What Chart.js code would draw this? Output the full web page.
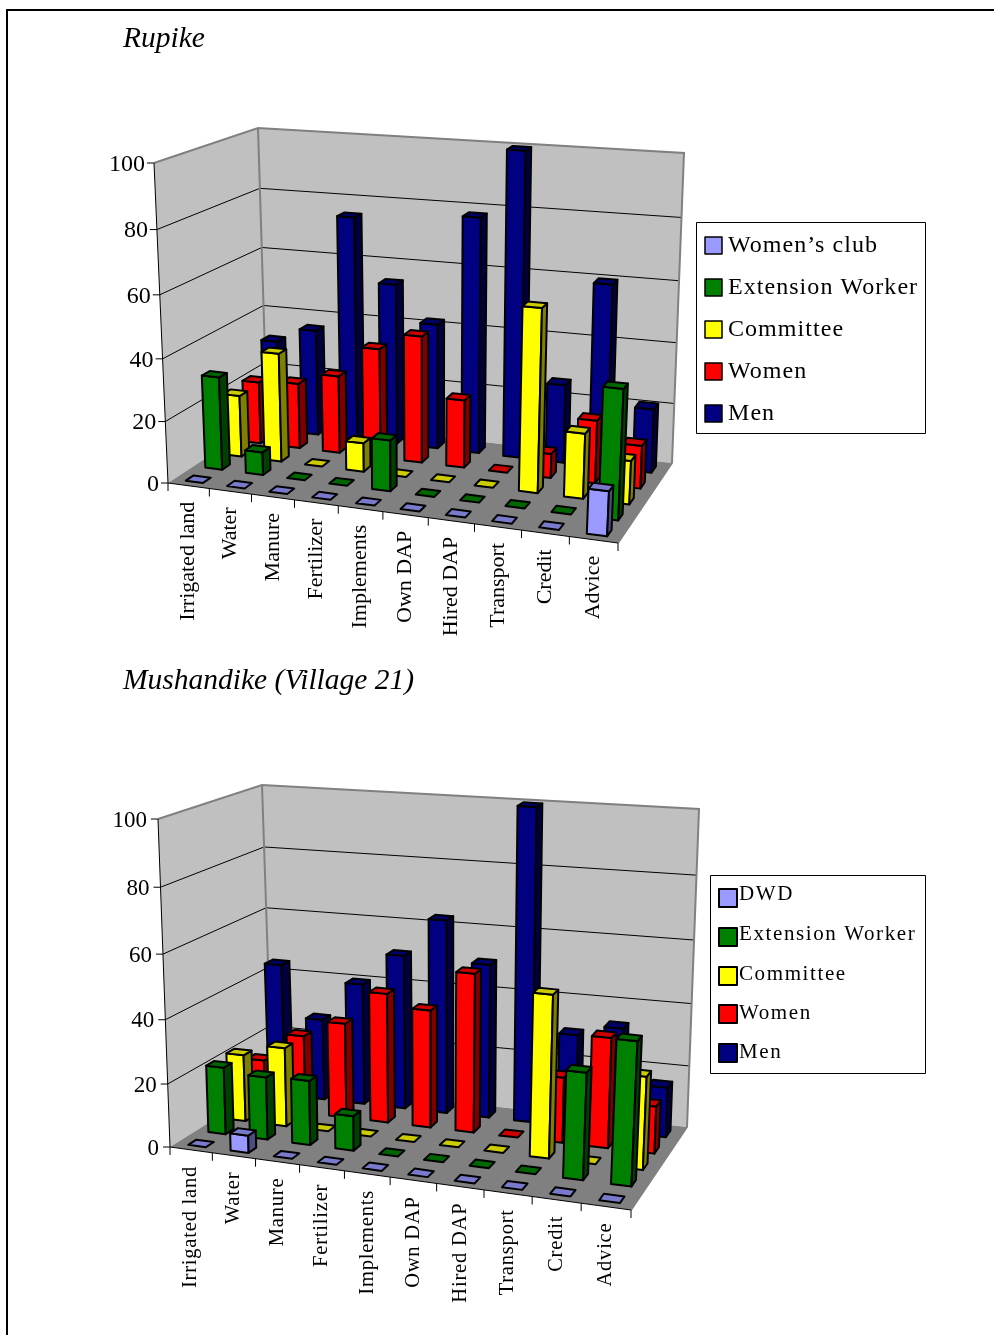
<!DOCTYPE html>
<html><head><meta charset="utf-8">
<script src="https://cdn.jsdelivr.net/npm/chart.js@4/dist/chart.umd.js"></script>
<style>
html,body{margin:0;padding:0;background:#fff;overflow:hidden;width:994px;height:1335px}
#frame{position:absolute;left:6px;top:9px;width:1000px;height:1340px;border:2px solid #000}
canvas{position:absolute;left:0}
</style></head><body>
<div id="frame"></div>
<canvas id="c1" style="top:0"></canvas>
<canvas id="c2" style="top:660px"></canvas>
<script>
// ---------- data ----------
const categories = ["Irrigated land","Water","Manure","Fertilizer","Implements","Own DAP","Hired DAP","Transport","Credit","Advice"];
const valueTicks = [0,20,40,60,80,100];

const rupikeTitle = "Rupike";
const rupikeSeries = ["Women\u2019s club","Extension Worker","Committee","Women","Men"];
const rupikeWomensClub = [0,0,0,0,0,0,0,0,0,14];
const rupikeExtension  = [30.5,7.5,0,0,16.5,0,0,0,0,41];
const rupikeCommittee  = [20.5,36,0,9.5,0,0,0,59,21,14];
const rupikeWomen      = [21,22,26,36.5,42,22.5,0,8,20.5,14];
const rupikeMen        = [31,36,75,54,42,78,100,26,60,21];

const mushTitle = "Mushandike (Village 21)";
const mushSeries = ["DWD","Extension Worker","Committee","Women","Men"];
const mushDWD       = [0,5.5,0,0,0,0,0,0,0,0];
const mushExtension = [21.5,20,20.5,11,0,0,0,0,33,44];
const mushCommittee = [21.7,25.5,0,0,0,0,0,51,0,29];
const mushWomen     = [16,25.5,31,42,38,51,0,21,35,15];
const mushMen       = [44,27,40,50.5,63,50,100,30,33.5,16];

const seriesColors = ["#9999ff","#008000","#ffff00","#ff0000","#000080"];

// ---------- styling / layout ----------
const serif = '"Liberation Serif","Times New Roman",serif';
const layoutA = {
  canvasTop:0, w:994, h:660,
  FLb:[168,483], FLt:[154,163], BLb:[267,418], BLt:[258,128], BRb:[672,463], BRt:[684,153], FRb:[618,543], FRt:[633,205],
  tickFont:24, tickGap:9, catFont:22, spacing:'0px', catOffset:16, title:[123,39], titleFont:29.5,
  legend:{x:696,y:222,w:229,h:211,sx:705,sw:17,sy:[237,279,321,363,405],tx:728,ty:[246,288,330,372,414],font:24,spacing:'1.05px',lw:1.5}
};
const layoutB = {
  canvasTop:660, w:994, h:675,
  FLb:[170,1147], FLt:[158,819], BLb:[272,1083], BLt:[262,785], BRb:[687,1127], BRt:[699,809], FRb:[631,1210], FRt:[647,862],
  tickFont:23, tickGap:11, catFont:20.5, spacing:'0.8px', catOffset:16, title:[123,681], titleFont:29.5,
  legend:{x:710,y:875,w:215,h:198,sx:719,sw:18,sy:[889,928,967,1005,1044],tx:739,ty:[894,934,974,1013,1052],font:21,spacing:'1.6px',lw:2}
};

function easeU(u){ return u*(0.91+0.09*u); }
function easeW(w){ return w*(0.95+0.05*w); }
function lerp(a,b,t){ return [a[0]+(b[0]-a[0])*t, a[1]+(b[1]-a[1])*t]; }
function project(L,u,v,w){
  const e = easeU(u);
  const b = lerp(lerp(L.FLb,L.FRb,e), lerp(L.BLb,L.BRb,e), v);
  const t = lerp(lerp(L.FLt,L.FRt,e), lerp(L.BLt,L.BRt,e), v);
  const p = lerp(b,t,easeW(w));
  return [p[0], p[1]-L.canvasTop];
}
function shade(hex,f){
  const n=parseInt(hex.slice(1),16);
  const c=[(n>>16)&255,(n>>8)&255,n&255].map(x=>Math.round(x*f));
  return `rgb(${c[0]},${c[1]},${c[2]})`;
}
function poly(ctx,pts,fill,stroke,lw){
  ctx.beginPath();
  pts.forEach((p,i)=> i?ctx.lineTo(p[0],p[1]):ctx.moveTo(p[0],p[1]));
  ctx.closePath();
  if(fill){ctx.fillStyle=fill;ctx.fill();}
  if(stroke){ctx.strokeStyle=stroke;ctx.lineWidth=lw;ctx.lineJoin='round';ctx.stroke();}
}
function norm(chart,el){
  const a=chart.chartArea;
  return {
    u0:(el.x-el.width/2-a.left)/(a.right-a.left),
    u1:(el.x+el.width/2-a.left)/(a.right-a.left),
    w:(el.base-el.y)/(a.bottom-a.top)
  };
}

class Bar3DController extends Chart.BarController {
  draw(){
    const chart=this.chart, ctx=chart.ctx, L=chart.options.plugins.scene.layout;
    const k=this.index, color=this.getDataset().backgroundColor;
    const v0=(k+0.5-0.2)/5, v1=(k+0.5+0.2)/5;
    this._cachedMeta.data.forEach(el=>{
      const {u0,u1,w}=norm(chart,el);
      const P=(u,v,h)=>project(L,u,v,h);
      if(w>0){
        poly(ctx,[P(u0,v0,0),P(u1,v0,0),P(u1,v0,w),P(u0,v0,w)],color,'#000',2);
        poly(ctx,[P(u1,v0,0),P(u1,v1,0),P(u1,v1,w),P(u1,v0,w)],shade(color,0.5),'#000',2);
      }
      poly(ctx,[P(u0,v0,w),P(u1,v0,w),P(u1,v1,w),P(u0,v1,w)],shade(color,0.8),'#000',2);
    });
  }
}
Bar3DController.id='bar3d';
Bar3DController.defaults={...Chart.BarController.defaults};
Bar3DController.overrides=Chart.BarController.overrides;
Chart.register(Bar3DController);

const scene = {
  id:'scene',
  beforeDatasetsDraw(chart,args,opts){
    const ctx=chart.ctx, L=opts.layout, y=chart.scales.y, a=chart.chartArea;
    const P=(u,v,w)=>project(L,u,v,w);
    // walls and floor
    poly(ctx,[P(0,0,0),P(0,1,0),P(0,1,1),P(0,0,1)],'#c0c0c0');
    poly(ctx,[P(0,1,0),P(1,1,0),P(1,1,1),P(0,1,1)],'#c0c0c0');
    poly(ctx,[P(0,0,0),P(1,0,0),P(1,1,0),P(0,1,0)],'#808080');
    // grid lines from the value scale
    valueTicks.forEach(t=>{
      if(t===0||t===100) return;
      const w=(a.bottom-y.getPixelForValue(t))/(a.bottom-a.top);
      ctx.beginPath();
      const p=P(0,0,w),q=P(0,1,w),r=P(1,1,w);
      ctx.moveTo(p[0],p[1]);ctx.lineTo(q[0],q[1]);ctx.lineTo(r[0],r[1]);
      ctx.strokeStyle='#000';ctx.lineWidth=1;ctx.stroke();
    });
    // wall edges
    const edge=(pts,c,lw)=>{ctx.beginPath();pts.forEach((p,i)=>i?ctx.lineTo(p[0],p[1]):ctx.moveTo(p[0],p[1]));ctx.strokeStyle=c;ctx.lineWidth=lw;ctx.lineJoin='miter';ctx.stroke();};
    edge([P(0,0,1),P(0,1,1),P(1,1,1),P(1,1,0),P(1,0,0)],'#808080',2);
    edge([P(0,1,0),P(0,1,1)],'#808080',2);
    edge([P(0,0,1),P(0,0,0),P(1,0,0)],'#000',1);
    // value ticks and labels
    ctx.fillStyle='#000';
    ctx.font=`${L.tickFont}px ${serif}`;
    ctx.textAlign='right';ctx.textBaseline='middle';
    valueTicks.forEach(t=>{
      const w=(a.bottom-y.getPixelForValue(t))/(a.bottom-a.top);
      const p=P(0,0,w);
      edge([[p[0]-7,p[1]],p],'#000',1);
      ctx.fillStyle='#000';
      ctx.fillText(String(t),p[0]-L.tickGap,p[1]+1.5);
    });
    // category ticks and labels
    const n=chart.data.labels.length;
    for(let i=0;i<=n;i++){
      const p=P(i/n,0,0);
      edge([p,[p[0],p[1]+8]],'#000',1);
    }
    ctx.textAlign='right';ctx.textBaseline='middle';
    ctx.font=`${L.catFont}px ${serif}`;
    ctx.letterSpacing=L.spacing;
    chart.data.labels.forEach((lab,i)=>{
      const x=chart.scales.x.getPixelForValue(i);
      const p=P((x-a.left)/(a.right-a.left),0,0);
      ctx.save();
      ctx.translate(p[0],p[1]+L.catOffset);
      ctx.rotate(-Math.PI/2);
      ctx.fillStyle='#000';
      ctx.fillText(lab,0,0);
      ctx.restore();
    });
    ctx.letterSpacing='0px';
  },
  afterDraw(chart,args,opts){
    const ctx=chart.ctx, L=opts.layout, G=L.legend, off=L.canvasTop;
    // title
    ctx.fillStyle='#000';
    ctx.font=`italic ${L.titleFont}px ${serif}`;
    ctx.textAlign='left';ctx.textBaseline='middle';
    ctx.fillText(opts.title,L.title[0],L.title[1]-off);
    // legend
    ctx.fillStyle='#fff';ctx.fillRect(G.x,G.y-off,G.w,G.h);
    ctx.strokeStyle='#000';ctx.lineWidth=1;ctx.strokeRect(G.x+.5,G.y-off+.5,G.w,G.h);
    ctx.font=`${G.font}px ${serif}`;ctx.letterSpacing=G.spacing;
    chart.data.datasets.forEach((d,i)=>{
      ctx.fillStyle=d.backgroundColor;ctx.fillRect(G.sx,G.sy[i]-off,G.sw,G.sw);
      ctx.strokeStyle='#000';ctx.lineWidth=G.lw;ctx.strokeRect(G.sx,G.sy[i]-off,G.sw,G.sw);
      ctx.fillStyle='#000';ctx.fillText(d.label,G.tx,G.ty[i]-off);
    });
    ctx.letterSpacing='0px';
  }
};

function build(id,L,title,names,series){
  const cv=document.getElementById(id);
  cv.width=L.w;cv.height=L.h;cv.style.width=L.w+'px';cv.style.height=L.h+'px';
  return new Chart(cv,{
    type:'bar3d',
    data:{labels:categories,datasets:series.map((s,i)=>({
      label:names[i],data:s,backgroundColor:seriesColors[i],clip:false,
      grouped:false,barPercentage:0.42,categoryPercentage:1
    }))},
    options:{
      responsive:false,animation:false,
      layout:{padding:{left:L.FLb[0],right:L.w-L.FRb[0],top:L.FLt[1]-L.canvasTop,bottom:L.h-(L.FLb[1]-L.canvasTop)}},
      scales:{
        x:{type:'category',display:false,offset:true},
        y:{type:'linear',display:false,min:0,max:100}
      },
      plugins:{legend:{display:false},tooltip:{enabled:false},title:{display:false},scene:{layout:L,title}}
    },
    plugins:[scene]
  });
}
build('c1',layoutA,rupikeTitle,rupikeSeries,[rupikeWomensClub,rupikeExtension,rupikeCommittee,rupikeWomen,rupikeMen]);
build('c2',layoutB,mushTitle,mushSeries,[mushDWD,mushExtension,mushCommittee,mushWomen,mushMen]);
</script>
</body></html>
